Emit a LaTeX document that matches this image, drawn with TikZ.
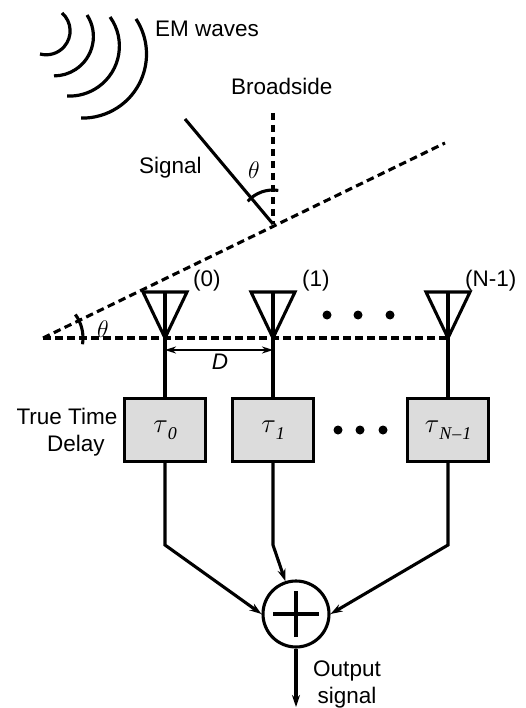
\RequirePackage{fix-cm}
\documentclass[tikz,border=0pt]{standalone}
\usepackage{fontspec}
\setmainfont{Liberation Sans}
\newfontfamily\timesfont{Liberation Serif}
\usetikzlibrary{arrows.meta}
\definecolor{boxgray}{RGB}{220,220,220}
\newcommand{\taulabel}[1]{{\fontsize{27}{30}\selectfont$\tau$}\raisebox{-7pt}{\timesfont\itshape\fontsize{18}{20}\selectfont #1}}
\begin{document}
\begin{tikzpicture}[x=1pt,y=-1pt,
  every node/.style={font=\fontsize{22.5}{27}\selectfont, inner sep=0pt},
  anglelabel/.style={font=\fontsize{24}{28}\selectfont},
  solidline/.style={line width=3.1pt},
  wave/.style={line width=3.2pt},
  dashline/.style={line width=3.1pt, dash pattern=on 7.5pt off 4.5pt},
  delaybox/.style={draw, line width=3.2pt, fill=boxgray, minimum width=81pt, minimum height=63pt},
  tip/.style={-{Stealth[length=12pt,width=8pt]}},
  bitip/.style={{Stealth[length=11pt,width=7pt]}-{Stealth[length=11pt,width=7pt]}},
  dotmark/.style={circle, fill=black, minimum size=9pt, inner sep=0pt}
]
\useasboundingbox (0,0) rectangle (526,708);

% EM waves
\draw[wave] (46.2,30.9) ++(-48.6:23.9) arc[start angle=-48.6,end angle=105,radius=23.9];
\draw[wave] (54,36.5) ++(-33:39.4) arc[start angle=-33,end angle=90,radius=39.4];
\draw[wave] (69.4,46.1) ++(-35.6:50) arc[start angle=-35.6,end angle=92.7,radius=50];
\draw[wave] (82.5,54.1) ++(-33.3:64) arc[start angle=-33.3,end angle=91.3,radius=64];
\node[anchor=base west] (em) at (155,37) {EM waves};

% broadside, signal, tilted front
\coordinate (hit) at (273,224);
\coordinate (bstop) at (273,113);
\coordinate (sigstart) at (185,119);
\coordinate (origin) at (43,338);
\coordinate (frontend) at (445,143);
\coordinate (hend) at (448,338);
\node[anchor=base west] (bs) at (231,95) {Broadside};
\node[anchor=base west] (sig) at (139,174) {Signal};
\draw[dashline] (bstop) -- (hit);
\draw[solidline] (sigstart) -- (hit);
\draw[dashline] (origin) -- (frontend);
\draw[dashline] (origin) -- (hend);
\draw[solidline] (hit) ++(-81:34) arc[start angle=-81,end angle=-138,radius=34];
\node[anglelabel] (th1) at (254,170) {$\theta$};
\draw[solidline] (origin) ++(9:40) arc[start angle=9,end angle=-36,radius=40];
\node[anglelabel] (th2) at (103,329) {$\theta$};

% antennas
\foreach \n/\x in {a0/165,a1/273,aN/448}{
  \coordinate (\n top) at (\x,292);
  \coordinate (\n apex) at (\x,338);
  \draw[solidline, line join=miter] (\x-22,292) -- (\x+22,292) -- (\n apex) -- cycle;
  \draw[solidline] (\n top) -- (\n apex);
}
\node[anchor=base west] (l0) at (193,286) {(0)};
\node[anchor=base west] (l1) at (302,286) {(1)};
\node[anchor=base west] (lN) at (465,286) {(N-1)};
\node[dotmark] (d1) at (327,315) {};
\node[dotmark] (d2) at (358,315) {};
\node[dotmark] (d3) at (390,315) {};

% spacing D
\coordinate (dl) at (165,350);
\coordinate (dr) at (273,350);
\draw[line width=2.7pt, bitip] (dl) -- (dr);
\node[anchor=base] (dlab) at (220,369) {\itshape D};

% delay boxes
\node[delaybox] (b0) at (165,430) {\taulabel{0}};
\node[delaybox] (b1) at (273,430) {\taulabel{1}};
\node[delaybox] (bN) at (448,430) {\taulabel{N\kern1pt\textendash\kern1pt1}};
\node[dotmark] (e1) at (338,430) {};
\node[dotmark] (e2) at (360,430) {};
\node[dotmark] (e3) at (383,430) {};
\node[align=center, anchor=base] (ttd) at (67,451) {True Time\\\hspace*{18pt}Delay};

\draw[solidline] (a0apex) -- (b0.north);
\draw[solidline] (a1apex) -- (b1.north);
\draw[solidline] (aNapex) -- (bN.north);

% summer
\node[draw, circle, line width=3.1pt, minimum size=66pt] (sum) at (296,614) {};
\draw[solidline] ([xshift=-23pt]sum.center) -- ([xshift=23pt]sum.center);
\draw[solidline] ([yshift=-23pt]sum.center) -- ([yshift=23pt]sum.center);

\coordinate (k0) at (165,545);
\coordinate (k1) at (273,545);
\coordinate (kN) at (448,545);
\draw[solidline, tip] (b0.south) -- (k0) -- (sum.west);
\draw[solidline, tip] (b1.south) -- (k1) -- (sum.108);
\draw[solidline, tip] (bN.south) -- (kN) -- (sum.east);

\coordinate (out) at (296,707);
\draw[solidline, tip] (sum.south) -- (out);
\node[align=center, anchor=base] (outlab) at (347,703) {Output\\signal};
\end{tikzpicture}
\end{document}
